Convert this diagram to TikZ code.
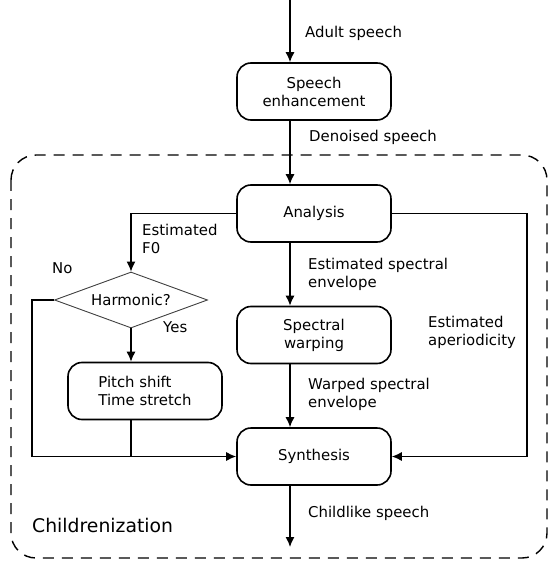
\documentclass[tikz,border=0pt]{standalone}
\usepackage{fontspec}
\setmainfont{DejaVu Sans}
\usetikzlibrary{arrows.meta,%
                shapes.geometric}
\tikzstyle{proc}=[rectangle, draw, rounded corners=14pt, line width=1.6pt, minimum width=154pt, minimum height=57pt, inner sep=0pt, align=center, font=\fontsize{14.9}{18}\selectfont]
\tikzstyle{deci}=[diamond, draw=black!75, line width=0.9pt, aspect=2.7, minimum width=153pt, minimum height=56pt, inner sep=0pt, font=\fontsize{14.9}{18}\selectfont]
\tikzstyle{lbl}=[anchor=west, inner sep=0pt, align=left, font=\fontsize{14.9}{18}\selectfont]
\tikzstyle{flow}=[line width=1.3pt, -{Latex[length=10pt,width=9pt]}]

\begin{document}
\begin{tikzpicture}[x=1pt,y=-1pt]
  \useasboundingbox (0,0) rectangle (550,561);
  \draw[line width=1.4pt, dash pattern=on 11pt off 8pt, rounded corners=25pt] (11,155) rectangle (547,558);

  \coordinate (in) at (290,0);
  \coordinate (out) at (290,547);
  \coordinate (lft) at (32,0);
  \coordinate (rgt) at (527,0);

  \node[proc] (enh) at (314,91.5) {Speech\\enhancement};
  \node[proc] (ana) at (314,213.5) {Analysis};
  \node[proc] (warp) at (314,335) {Spectral\\warping};
  \node[proc] (syn) at (314,456.5) {Synthesis};
  \node[deci] (harm) at (131,300) {Harmonic?};
  \node[proc, align=left] (pitch) at (145,391) {Pitch shift\\Time stretch};

  \node[lbl] (adult) at (305,33) {Adult speech};
  \node[lbl] (denoised) at (309,137) {Denoised speech};
  \node[lbl] (fzero) at (142,239) {Estimated\\F0};
  \node[lbl] (no) at (52,268) {No};
  \node[lbl] (yes) at (163,327) {Yes};
  \node[lbl] (envel) at (308,274) {Estimated spectral\\envelope};
  \node[lbl] (aper) at (428,332.5) {Estimated\\aperiodicity};
  \node[lbl] (warped) at (308,394) {Warped spectral\\envelope};
  \node[lbl] (child) at (308,513) {Childlike speech};
  \node[lbl, font=\fontsize{18.8}{22}\selectfont] (childr) at (32,525) {Childrenization};

  \draw[flow] (in) -- (in |- enh.north);
  \draw[flow] (enh.south -| in) -- (ana.north -| in);
  \draw[flow] (ana.south -| in) -- (warp.north -| in);
  \draw[flow] (warp.south -| in) -- (syn.north -| in);
  \draw[flow] (syn.south -| in) -- (out);
  \draw[flow] (ana.west) -| (harm.north);
  \draw[flow] (harm.south) -- (harm.south |- pitch.north);
  \draw[flow] (harm.west) -- (harm.west -| lft) |- (syn.west);
  \draw[line width=1.3pt] (pitch.south -| harm.south) -- (harm.south |- syn.west);
  \draw[flow] (ana.east) -- (ana.east -| rgt) |- (syn.east);
\end{tikzpicture}
\end{document}
